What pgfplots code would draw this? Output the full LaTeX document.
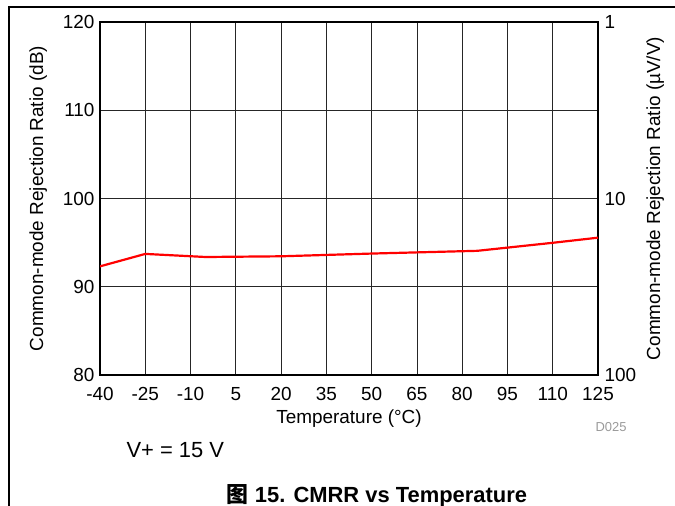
\documentclass[border=0pt]{standalone}
\usepackage{pgfplots}
\pgfplotsset{compat=1.18}
\usepackage{fontspec}
\setmainfont{Liberation Sans}
\newfontfamily\cjk{Noto Sans CJK SC}

\pgfplotstableread{
T     cmrr
-40   92.31
-25   93.72
-5    93.37
20    93.45
50    93.76
85    94.07
110   94.98
125   95.56
}\cmrrdata

\begin{document}
\begin{tikzpicture}[x=1bp,y=1bp]
\useasboundingbox (0,0) rectangle (675,506);
% page frame
\draw[line width=1.4bp] (9,0) -- (9,499) -- (675,499);

\pgfplotsset{
  chartbase/.style={
    at={(100bp,131bp)}, anchor=south west,
    width=498bp, height=353bp, scale only axis,
    xmin=-40, xmax=125,
    font=\fontsize{19}{22}\selectfont,
    /pgf/number format/assume math mode=true,
    major tick length=0pt,
    tick style={draw=none},
  }
}

% left axis: CMRR in dB
\begin{axis}[
  chartbase,
  ymin=80, ymax=120,
  xtick={-40,-25,...,125},
  ytick={80,90,...,120},
  grid=major,
  grid style={black!85, line width=0.8bp},
  axis line style={line width=2.6bp},
  xticklabel style={yshift=-17bp, text height=1.4ex, text depth=0pt, inner ysep=1bp},
  yticklabel style={xshift=-2bp},
  xlabel={Temperature (\textdegree C)},
  xlabel style={at={(axis description cs:0.5,-0.123)}, anchor=center, inner ysep=1bp},
  ylabel={Common-mode Rejection Ratio (dB)},
  ylabel style={at={(axis description cs:-0.124,0.5)}, anchor=center},
]
\addplot[red, line width=2.2bp] table[x=T, y=cmrr] {\cmrrdata};
\end{axis}

% right axis: CMRR in uV/V (reversed log scale)
\begin{axis}[
  chartbase,
  ymode=log, y dir=reverse,
  ymin=1, ymax=100,
  axis x line=none,
  axis y line*=right,
  axis line style={draw=none},
  ytick={1,10,100},
  yticklabels={1,10,100},
  yticklabel style={xshift=3bp},
  ylabel={Common-mode Rejection Ratio (\textmu V/V)},
  ylabel style={at={(axis description cs:1.115,0.5)}, anchor=center},
]
\end{axis}

\node[font=\fontsize{13}{15}\selectfont, text=black!40, anchor=east] at (630,79) {D025};
\node[font=\fontsize{22}{26}\selectfont, anchor=west] at (123,56) {V+ = 15 V};
\node[font=\fontsize{22}{26}\selectfont\bfseries] at (377,10) {{\cjk\bfseries 图} 15. CMRR vs Temperature};
\end{tikzpicture}
\end{document}
